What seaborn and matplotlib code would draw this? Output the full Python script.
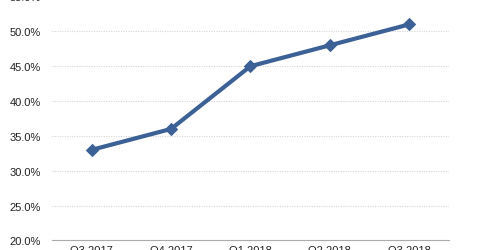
import matplotlib
matplotlib.use("Agg")
import matplotlib.pyplot as plt
import seaborn as sns
import pandas as pd
import numpy as np
from matplotlib.ticker import FixedLocator, FuncFormatter

quarters = ["Q3 2017", "Q4 2017", "Q1 2018", "Q2 2018", "Q3 2018"]
values = [33.0, 36.0, 45.0, 48.0, 51.0]
yticks = [20, 25, 30, 35, 40, 45, 50, 55]

sns.set_theme(style="white")
plt.rcParams['font.family'] = ['Liberation Sans', 'DejaVu Sans']

df = pd.DataFrame({"quarter": quarters, "value": values})

fig = plt.figure(figsize=(4.8, 2.51), dpi=100)
ax = fig.add_axes([0.1083, 0.038, 0.827, 0.972])

for y in yticks[1:]:
    ax.axhline(y, color="#d4d4d4", lw=0.8, ls=(0, (1, 1.2)), zorder=0)

sns.lineplot(data=df, x="quarter", y="value", ax=ax, color="#3b6196",
             lw=3.0, marker="D", markersize=6, markeredgecolor="#3b6196",
             sort=False, zorder=3)

ax.set_xlim(-0.5, 4.5)
ax.set_ylim(20, 55)
ax.set_yticks(yticks)
ax.yaxis.set_major_formatter(FuncFormatter(lambda v, p: f"{v:.1f}%"))
ax.set_xticks(range(len(quarters)))
ax.set_xticklabels(quarters)
ax.xaxis.set_minor_locator(FixedLocator(np.arange(-0.5, 5, 1)))
ax.tick_params(axis="x", which="major", length=0, labelsize=8, colors="#222222", pad=3.5)
ax.tick_params(axis="x", which="minor", length=4, color="#aaaaaa", width=0.8, direction="inout")
ax.tick_params(axis="y", length=0, labelsize=8, colors="#222222", pad=8)
ax.set_xlabel("")
ax.set_ylabel("")
for s in ["top", "right", "left"]:
    ax.spines[s].set_visible(False)
ax.spines["bottom"].set_color("#aaaaaa")
ax.spines["bottom"].set_linewidth(0.8)

fig.savefig("out.png", dpi=100)
